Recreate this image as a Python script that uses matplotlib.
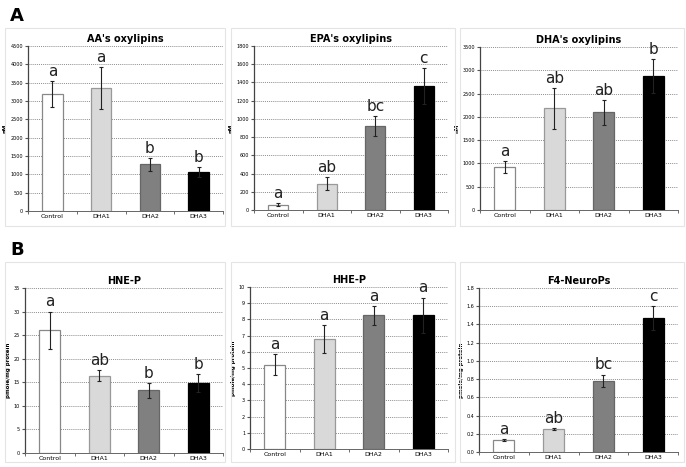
import matplotlib.pyplot as plt
import matplotlib.patches as mpatches
import numpy as np

groups = ["Control", "DHA1", "DHA2", "DHA3"]

aa_mean = [3200, 3350, 1270, 1060]
aa_err = [350, 580, 170, 130]
aa_sig = ["a", "a", "b", "b"]

epa_mean = [60, 290, 920, 1360]
epa_err = [15, 70, 110, 200]
epa_sig = ["a", "ab", "bc", "c"]

dha_mean = [930, 2180, 2100, 2880]
dha_err = [130, 440, 270, 360]
dha_sig = ["a", "ab", "ab", "b"]

hne_mean = [26.0, 16.4, 13.3, 14.9]
hne_err = [4.0, 1.2, 1.6, 1.9]
hne_sig = ["a", "ab", "b", "b"]

hhe_mean = [5.2, 6.8, 8.25, 8.25]
hhe_err = [0.65, 0.85, 0.6, 1.1]
hhe_sig = ["a", "a", "a", "a"]

f4_mean = [0.13, 0.25, 0.78, 1.47]
f4_err = [0.01, 0.01, 0.07, 0.13]
f4_sig = ["a", "ab", "bc", "c"]

bar_colors = ["white", "#d9d9d9", "#808080", "black"]
edge_colors = ["#888888", "#999999", "#666666", "black"]

W, H = 686, 467
fig = plt.figure(figsize=(W / 100, H / 100), dpi=100)


def ax_at(left, top, right, bottom):
    # pixel box -> figure fraction
    return fig.add_axes([left / W, 1 - bottom / H, (right - left) / W, (bottom - top) / H])


def panel(box, frame, title, means, errs, sig, ymax, ystep, ylabel, fmt):
    # light frame around the panel
    fx0, fy0, fx1, fy1 = frame
    fig.patches.append(mpatches.Rectangle((fx0 / W, 1 - fy1 / H), (fx1 - fx0) / W, (fy1 - fy0) / H,
                                          transform=fig.transFigure, fill=False,
                                          edgecolor="#e4e4e4", lw=0.8))
    ax = ax_at(*box)
    x = np.arange(len(groups))
    ax.bar(x, means, width=0.42, color=bar_colors, edgecolor=edge_colors, linewidth=0.9, zorder=3)
    ax.errorbar(x, means, yerr=errs, fmt="none", ecolor="#222222", elinewidth=0.8,
                capsize=1.5, capthick=0.8, zorder=4)
    for xi, m, e, s in zip(x, means, errs, sig):
        ax.annotate(s, (xi, m + e), xytext=(0, 1.5), textcoords="offset points",
                    ha="center", va="bottom", fontsize=11, color="#222222")
    ax.set_xlim(-0.5, 3.5)
    ax.set_ylim(0, ymax)
    ax.set_yticks(np.arange(0, ymax + ystep / 2, ystep))
    ax.set_yticklabels([fmt.format(v) for v in np.arange(0, ymax + ystep / 2, ystep)])
    ax.set_xticks(x)
    ax.set_xticklabels(groups)
    ax.set_xticks(np.arange(-0.5, 4, 1), minor=True)
    ax.tick_params(axis="x", which="major", length=0, labelsize=4.5, pad=2)
    ax.tick_params(axis="x", which="minor", length=2.5, direction="out", color="#555555")
    ax.tick_params(axis="y", length=2.5, labelsize=3.5, pad=1, color="#555555")
    ax.yaxis.grid(True, linestyle=(0, (1.5, 1.5)), color="#666666", linewidth=0.5, zorder=0)
    ax.set_axisbelow(True)
    for sp in ["top", "right"]:
        ax.spines[sp].set_visible(False)
    ax.spines["left"].set_color("#444444")
    ax.spines["bottom"].set_color("#666666")
    ax.spines["left"].set_linewidth(0.9)
    ax.spines["bottom"].set_linewidth(0.7)
    ax.set_title(title, fontsize=7, fontweight="bold", pad=3)
    ax.set_ylabel(ylabel, fontsize=4, fontweight="bold", labelpad=2)
    return ax


panel((28, 46, 223, 211), (5, 28, 225, 226), "AA's oxylipins", aa_mean, aa_err, aa_sig,
      4500, 500, "nM", "{:.0f}")
panel((254, 46, 448, 210), (231, 28, 455, 226), "EPA's oxylipins", epa_mean, epa_err, epa_sig,
      1800, 200, "nM", "{:.0f}")
panel((480, 47, 678, 210), (460, 28, 684, 226), "DHA's oxylipins", dha_mean, dha_err, dha_sig,
      3500, 500, "nM", "{:.0f}")
panel((25, 288, 223, 453), (5, 262, 225, 462), "HNE-P", hne_mean, hne_err, hne_sig,
      35, 5, "pmole/mg protein", "{:.0f}")
panel((250, 287, 448, 449), (231, 262, 455, 462), "HHE-P", hhe_mean, hhe_err, hhe_sig,
      10, 1, "pmole/mg protein", "{:.0f}")
panel((479, 288, 678, 452), (460, 262, 684, 462), "F4-NeuroPs", f4_mean, f4_err, f4_sig,
      1.8, 0.2, "pmole/mg protein", "{:.1f}")

fig.text(10 / W, 1 - 16 / H, "A", fontsize=13, fontweight="bold", va="center")
fig.text(10 / W, 1 - 250 / H, "B", fontsize=13, fontweight="bold", va="center")

fig.savefig("out.png", dpi=100)
